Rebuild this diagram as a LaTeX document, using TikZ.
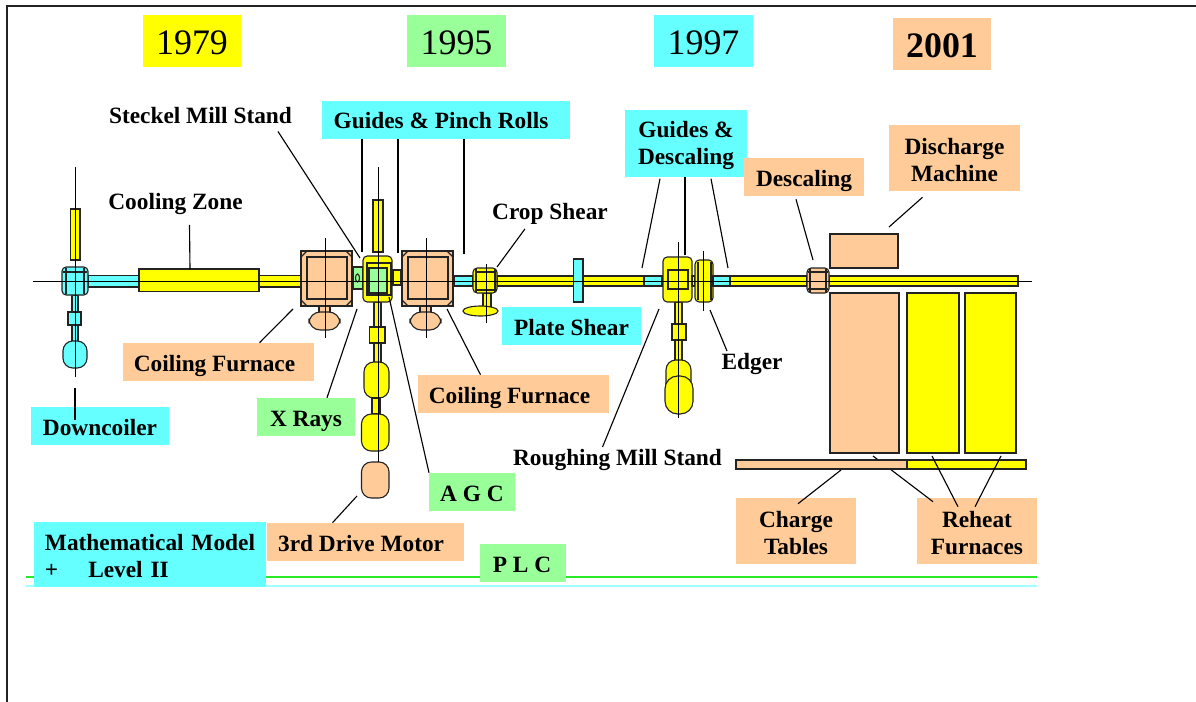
\documentclass[tikz,border=0pt]{standalone}
\usepackage{fontspec}
\setmainfont{Liberation Serif}
\usepackage{xcolor}
\usetikzlibrary{calc}
\definecolor{millY}{RGB}{255,255,0}
\definecolor{millC}{RGB}{102,255,255}
\definecolor{millG}{RGB}{153,255,153}
\definecolor{millO}{RGB}{255,204,153}
\definecolor{edge}{RGB}{35,35,35}
\definecolor{busG}{RGB}{40,235,40}
\definecolor{busC}{RGB}{160,255,255}
\newcommand{\dn}{\rule{0pt}{14pt}}
\tikzset{
  part/.style={draw=edge,line width=0.8pt},
  ypart/.style={part,fill=millY},
  cpart/.style={part,fill=millC},
  gpart/.style={part,fill=millG},
  opart/.style={part,fill=millO},
  rnd/.style={rounded corners=3pt},
  oct/.style={rounded corners=7pt},
  axis/.style={black,line width=0.7pt},
  lead/.style={black,line width=0.8pt},
  year/.style={minimum width=2.45cm,minimum height=1.3cm,inner sep=0pt,text height=19pt,text depth=0pt,font=\fontsize{25.5}{30}\selectfont},
  lab/.style={inner sep=0pt,align=center,font=\fontsize{16.6}{19.2}\selectfont\bfseries},
  slab/.style={lab,minimum height=.95cm,text height=14pt,text depth=1.2pt},
  dlab/.style={lab,minimum height=1.65cm},
}
\begin{document}
\begin{tikzpicture}[x=0.025cm,y=-0.025cm]
  \useasboundingbox (0,0) rectangle (1196,702);
  \draw[line width=1pt,edge] (7,702) -- (7,6) -- (1196,6);
  % bus lines
  \draw[line width=0.9pt,busG] (26,577) -- (1037,577);
  \draw[line width=0.9pt,busC] (26,586) -- (1037,586);
  % years
  \node[year,fill=millY] (y79) at (192,41) {1979};
  \node[year,fill=millG] (y95) at (456.5,41) {1995};
  \node[year,fill=millC] (y97) at (703.5,41) {1997};
  \node[year,fill=millO,font=\fontsize{25.5}{30}\selectfont\bfseries] (y01) at (942,44) {2001};
  % labels
  \node[lab] (lSteckel) at (200.5,116) {Steckel Mill Stand};
  \node[slab,fill=millC,minimum width=6.2cm] (lPinch) at (446,120) {\hspace{-.25cm}Guides \& Pinch Rolls};
  \node[lab] (lCool) at (175.5,204) {Cooling Zone};
  \node[lab] (lCrop) at (550,214) {Crop Shear};
  \node[dlab,fill=millC,minimum width=3.05cm] (lDesc) at (686,143.5) {\dn Guides \&\\Descaling};
  \node[slab,fill=millO,minimum width=3cm] (lScale) at (804,177) {Descaling};
  \node[dlab,fill=millO,minimum width=3.275cm] (lDisch) at (954.5,158) {\dn Discharge\\Machine};
  \node[slab,fill=millO,minimum width=4.775cm] (lFurnA) at (218.5,362) {\hspace{-.2cm}Coiling Furnace};
  \node[slab,fill=millC,minimum width=3.475cm] (lPlate) at (571.5,326) {Plate Shear};
  \node[slab,fill=millC,minimum width=3.45cm] (lDown) at (100,426) {Downcoiler};
  \node[slab,fill=millG,minimum width=2.45cm] (lXray) at (306,417) {X Rays};
  \node[slab,fill=millO,minimum width=4.775cm] (lFurnB) at (513.5,394) {\hspace{-.2cm}Coiling Furnace};
  \node[lab] (lEdger) at (752,364) {Edger};
  \node[lab] (lRough) at (617.5,460) {Roughing Mill Stand};
  \node[slab,fill=millG,minimum width=2.15cm] (lAgc) at (472,492) {A G C};
  \node[dlab,fill=millO,minimum width=3cm] (lCharge) at (796,531) {\dn Charge\\Tables};
  \node[dlab,fill=millO,minimum width=3cm] (lReheat) at (977,531) {\dn Reheat\\Furnaces};
  \node[slab,fill=millO,minimum width=4.925cm] (lDrive) at (365.5,542) {\hspace{-.22cm}3rd Drive Motor};
  \node[slab,fill=millG,minimum width=2.15cm] (lPlc) at (523,563) {\hspace{-.05cm}P L C};
  \node[lab,fill=millC,align=left,text width=5.25cm,inner xsep=.275cm,minimum height=1.625cm] (lModel) at (150,554.5) {\dn Mathematical Model\\+\hspace{.75cm}Level II};
  % reheat line runs under the table
  \coordinate (tReheatA) at (873,456);
  \draw[lead] (tReheatA) -- ($(lReheat.north)+(-44,4)$);
  % downcoiler
  \draw[ypart] (70.5,209) rectangle (80,260);
  \draw[cpart] (72,295) rectangle (78,342);
  \draw[cpart] (68,312) rectangle (81,325);
  \draw[cpart,oct] (63,341) rectangle (87,368);
  \draw[cpart] (88,275.5) rectangle (139,287);
  \draw[cpart,rnd] (62,267) rectangle (88,295);
  \draw[part] (66,268) -- (66,294) (84,268) -- (84,294) (63,272) -- (87,272);
  % cooling zone
  \draw[ypart] (259,275.5) rectangle (302,287);
  \draw[ypart] (139,269) rectangle (259,291.5);
  % steckel side
  \foreach \x/\m in {301/A,402/B}{
    \draw[opart] (\x+18,306) rectangle (\x+29,314);
    \draw[opart,rounded corners=8pt] (\x+8,312) rectangle (\x+39,330);
    \draw[opart] (\x,251) rectangle (\x+51,306);
    \draw[part] (\x+6,257) rectangle (\x+46,299);
    \draw[part] (\x,251+6) -- (\x+6,251) (\x+51,257) -- (\x+45,251) (\x,300) -- (\x+6,306) (\x+51,300) -- (\x+45,306);
    \coordinate (furn\m) at (\x+24.5,238);
    \draw[axis] (furn\m) -- ++(0,100);
  }
  \draw[gpart] (353,267) rectangle (363,289);
  \draw[part] (357.5,278) ellipse (2 and 4);
  \draw[ypart] (373,200) rectangle (383,252);
  \draw[ypart] (374,302) rectangle (381,363);
  \draw[ypart] (369.5,327) rectangle (385,343);
  \draw[ypart,oct] (364,362) rectangle (389,398);
  \draw[ypart,line width=1.3pt] (372,398) rectangle (380,414);
  \draw[ypart,oct] (361.5,414) rectangle (389,451);
  \draw[opart,oct] (361.5,462) rectangle (389,498);
  \draw[ypart,rnd] (363,256) rectangle (392,302);
  \draw[part] (367,263) rectangle (391,295);
  \draw[gpart] (369,268) rectangle (387,293);
  \draw[ypart] (393,270) rectangle (401,285);
  \draw[axis] (378,167) -- (378,462);
  % crop and plate shear
  \draw[cpart] (454,276) rectangle (473,286);
  \draw[ypart] (497,276) rectangle (644,286);
  \draw[ypart] (483,293) rectangle (491,310);
  \draw[ypart] (480.5,311) ellipse (17.5 and 5);
  \draw[ypart,rnd] (473,268) rectangle (497,293);
  \draw[part] (475,272) -- (496,272) (475,290) -- (496,290) (476,269) -- (476,292) (495,269) -- (495,292);
  \draw[axis] (486,264) -- (486,323);
  \draw[cpart] (573.5,259) rectangle (583,302);
  % roughing mill
  \draw[cpart] (644,276) rectangle (662,286);
  \draw[ypart] (675,302) rectangle (682,362);
  \draw[ypart] (672,324) rectangle (686,340);
  \draw[ypart,oct] (666,360) rectangle (691,395);
  \draw[ypart,rounded corners=9pt] (665,376) rectangle (693,414);
  \draw[ypart,rnd] (663,257) rectangle (692,302);
  \draw[part] (668,270) rectangle (688,289);
  \draw[ypart] (692,276) rectangle (695,286);
  \draw[ypart,rnd] (695,260) rectangle (713,302);
  \draw[part] (698,262) -- (698,300) (711,262) -- (711,300);
  \draw[axis] (678,242) -- (678,418);
  \draw[axis] (703,251) -- (703,311);
  \draw[cpart] (713,276) rectangle (730,286);
  % furnaces
  \draw[ypart] (730,276) rectangle (807,286);
  \draw[ypart] (829,276) rectangle (1018,286);
  \draw[opart,rnd] (807,268) rectangle (829,293);
  \draw[part] (810,269) -- (810,292) (826,269) -- (826,292) (808,272) -- (828,272) (808,289) -- (828,289);
  \draw[opart] (830,234) rectangle (898,268);
  \draw[opart] (830,293) rectangle (899,453);
  \draw[ypart] (907,293) rectangle (959,453);
  \draw[ypart] (965,293) rectangle (1016,453);
  \draw[opart] (736,460) rectangle (907,469);
  \draw[ypart] (907,460) rectangle (1026,469);
  \draw[axis] (33,281) -- (1032,281);
  \draw[axis] (75,167) -- (75,377);
  % leaders
  \foreach \n/\a/\b/\c/\d in {lSteckel.south/77.5/7/360/258,lPinch.south/-84/0/362/252,lPinch.south/-48/0/398/253,lPinch.south/18/0/464/254,
    lCool.south/14/10/190/269,lFurnA.north/41/0/293/309,lXray.north/21/0/357/309,lAgc.north/-43/0/389/297,lFurnB.north/-33/0/447/309,
    lCrop.south/-25/4/497/267,lDesc.south/-26/2/642/268,lDesc.south/-1/0/685/255,lDesc.south/25/2/728/268,lEdger.north/-25/-2/710/310,
    lRough.north/-15/-2/659/309,lScale.south/-8/3/813/260,lDisch.south/-32/6/889/227,lDrive.north/-33/0/357/496,
    lCharge.north/2/6/841/470,lReheat.north/-19/9/932/456,lReheat.north/-2/9/1001/456,lDown.north/-25/-19/75/420}{
    \coordinate (leadEnd) at (\c,\d);
    \draw[lead] ($(\n)+(\a,\b)$) -- (leadEnd);
  }
\end{tikzpicture}
\end{document}
